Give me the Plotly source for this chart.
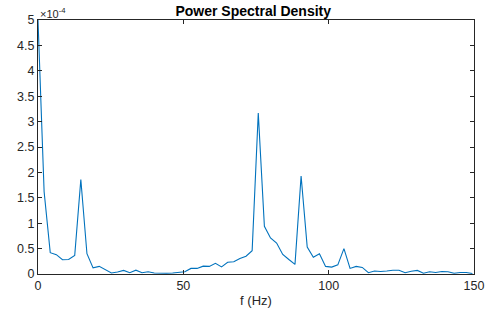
import plotly.graph_objects as go

# Frequency spacing (Hz) and PSD values (in units of 1e-4)
df_hz = 2.105
psd_e4 = [5.00, 1.62, 0.42, 0.38, 0.28, 0.285, 0.365, 1.86, 0.40, 0.12,
          0.15, 0.08, 0.02, 0.04, 0.07, 0.025, 0.075, 0.025, 0.045, 0.02,
          0.015, 0.015, 0.02, 0.04, 0.045, 0.11, 0.11, 0.155, 0.15, 0.21,
          0.14, 0.23, 0.24, 0.305, 0.35, 0.46, 3.17, 0.94, 0.71, 0.61,
          0.385, 0.285, 0.19, 1.93, 0.53, 0.33, 0.40, 0.15, 0.135, 0.18,
          0.50, 0.11, 0.15, 0.13, 0.025, 0.06, 0.05, 0.06, 0.075, 0.075,
          0.025, 0.055, 0.07, 0.015, 0.045, 0.03, 0.05, 0.045, 0.015, 0.03,
          0.03, 0.01]
freq = [i * df_hz for i in range(len(psd_e4))]

x_ticks = [0, 50, 100, 150]
y_ticks = [0, 0.5, 1, 1.5, 2, 2.5, 3, 3.5, 4, 4.5, 5]
y_tick_text = ["0", "0.5", "1", "1.5", "2", "2.5", "3", "3.5", "4", "4.5", "5"]

FONT = "Liberation Sans, Arial, sans-serif"

fig = go.Figure()
fig.add_trace(go.Scatter(x=freq, y=psd_e4, mode="lines",
                         line=dict(color="#0072BD", width=1.1),
                         showlegend=False, hoverinfo="skip"))

axis_common = dict(showgrid=False, zeroline=False, showline=True,
                   linecolor="#262626", linewidth=1, mirror="ticks",
                   ticks="inside", ticklen=4, tickwidth=1, tickcolor="#262626",
                   automargin=False,
                   tickfont=dict(family=FONT, size=12.5, color="#262626"))

fig.update_layout(
    width=487, height=311,
    margin=dict(l=38, r=13, t=20, b=37, autoexpand=False),
    paper_bgcolor="white", plot_bgcolor="white",
    title=dict(text="<b>Power Spectral Density</b>", x=0.52, xanchor="center",
               y=0.964, yanchor="middle", automargin=False,
               font=dict(family=FONT, size=14, color="black")),
    xaxis=dict(range=[0, 150], tickvals=x_ticks,
               title=dict(text="f (Hz)", standoff=3,
                          font=dict(family=FONT, size=13, color="#262626")),
               **axis_common),
    yaxis=dict(range=[0, 5], tickvals=y_ticks, ticktext=y_tick_text,
               **axis_common),
    annotations=[dict(text="×10<sup>-4</sup>", xref="paper", yref="paper",
                      x=0.0, y=1.0, xanchor="left", yanchor="bottom",
                      yshift=-2, showarrow=False,
                      font=dict(family=FONT, size=11, color="#262626"))],
)

fig.write_html("out.html",
               config={"displayModeBar": False},
               post_script="document.body.style.margin='0';"
                           "document.body.style.overflow='hidden';")
